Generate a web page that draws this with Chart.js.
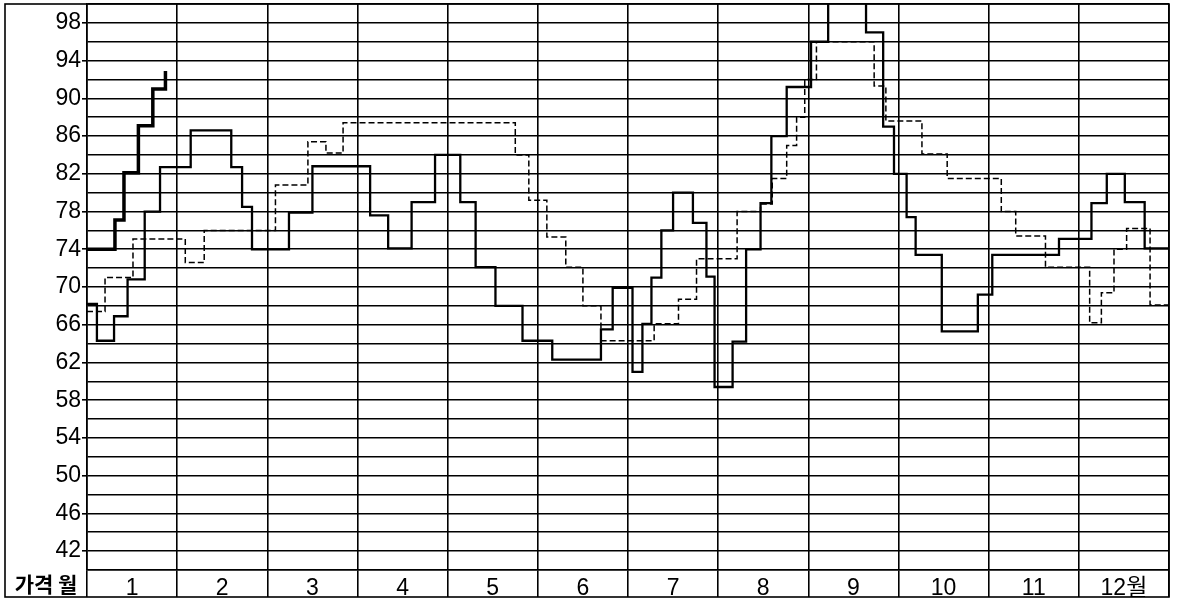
<!DOCTYPE html>
<html>
<head>
<meta charset="utf-8">
<script src="https://cdn.jsdelivr.net/npm/chart.js@4"></script>
<style>
  html, body { margin: 0; padding: 0; background: #fff; }
</style>
</head>
<body>
<canvas id="chart" width="1177" height="601"></canvas>
<script>
// month labels under each column, and the label of the corner cell
const monthLabels = ['1', '2', '3', '4', '5', '6', '7', '8', '9', '10', '11', '12월'];
const cornerLabel = '가격 월';

// thin solid line: month position where each step starts, and its price
const mainX = [0, 0.11, 0.30, 0.45, 0.64, 0.81, 1.15, 1.60, 1.72, 1.83, 2.24, 2.50,
  3.14, 3.34, 3.60, 3.86, 4.14, 4.31, 4.53, 4.83, 5.16, 5.70, 5.83, 6.05, 6.16, 6.26,
  6.37, 6.50, 6.72, 6.87, 6.96, 7.16, 7.31, 7.47, 7.59, 7.76, 8.03, 8.22, 8.64, 8.83,
  8.95, 9.09, 9.19, 9.48, 9.88, 10.04, 10.78, 11.14, 11.31, 11.51, 11.73, 12];
const mainY = [68.2, 64.3, 66.9, 70.8, 78, 82.7, 86.6, 82.7, 78.5, 74, 77.9, 82.8,
  77.6, 74.1, 79, 84, 79, 72.1, 68, 64.3, 62.3, 65.5, 69.9, 61, 66.1, 71,
  76, 80, 76.8, 71.1, 59.4, 64.2, 74, 78.9, 86, 91.2, 96, 104, 97, 87,
  82, 77.4, 73.4, 65.3, 69.2, 73.4, 75.1, 78.9, 82, 79, 74.1, 74.1];

// thick line (following January)
const nextJanX = [0, 0.31, 0.41, 0.57, 0.73, 0.87];
const nextJanY = [74, 77.1, 82.1, 87.1, 91, 92.9];

// dashed line
const avgX = [0, 0.20, 0.51, 1.09, 1.30, 2.09, 2.45, 2.65, 2.84, 4.75, 4.90, 5.10,
  5.31, 5.50, 5.70, 6.29, 6.56, 6.76, 7.21, 7.47, 7.60, 7.76, 7.87, 7.96, 8.09, 8.73,
  8.86, 9.26, 9.54, 10.14, 10.30, 10.63, 11.12, 11.25, 11.39, 11.53, 11.79, 12];
const avgY = [67.4, 71, 75.1, 72.6, 76, 80.8, 85.4, 84.2, 87.4, 84, 79.2, 75.3,
  72.1, 68, 64.3, 66.1, 68.7, 73, 78, 78.8, 81.5, 85, 88, 92, 96, 91.3,
  87.6, 84.1, 81.5, 78, 75.4, 72.1, 66.2, 69.4, 74, 76.2, 68.1, 68.1];

function toPoints(xs, ys) {
  return xs.map((x, i) => ({ x: x, y: ys[i] }));
}

function isLabeledPrice(v) {
  return (v - 42) % 4 === 0;
}

const labelFont = { family: '"Liberation Sans", "Noto Sans CJK KR", sans-serif', size: 23 };

// outer frame and the corner cell text
const framePlugin = {
  id: 'frame',
  afterDraw(chart) {
    const ctx = chart.ctx;
    const area = chart.chartArea;
    const bottom = chart.scales.x.bottom;
    ctx.save();
    ctx.strokeStyle = '#000';
    ctx.lineWidth = 1.6;
    ctx.strokeRect(5, area.top, area.right - 5, bottom - area.top);
    ctx.fillStyle = '#000';
    ctx.font = 'bold 21px "Noto Sans CJK KR", sans-serif';
    ctx.textAlign = 'center';
    ctx.textBaseline = 'middle';
    ctx.fillText(cornerLabel, (5 + area.left) / 2, (area.bottom + bottom) / 2 + 1);
    ctx.restore();
  }
};

new Chart(document.getElementById('chart'), {
  type: 'line',
  data: {
    datasets: [
      {
        data: toPoints(avgX, avgY),
        borderColor: '#000',
        borderWidth: 1.5,
        borderDash: [6, 3],
        stepped: true,
        pointRadius: 0
      },
      {
        data: toPoints(mainX, mainY),
        borderColor: '#000',
        borderWidth: 2.3,
        stepped: true,
        pointRadius: 0
      },
      {
        data: toPoints(nextJanX, nextJanY),
        borderColor: '#000',
        borderWidth: 3.5,
        stepped: true,
        pointRadius: 0
      }
    ]
  },
  options: {
    responsive: false,
    animation: false,
    layout: { padding: { left: 5, top: 4, right: 8, bottom: 4 } },
    plugins: {
      legend: { display: false },
      tooltip: { enabled: false }
    },
    scales: {
      x: {
        type: 'linear',
        min: 0,
        max: 12,
        afterBuildTicks: scale => {
          const ticks = [];
          for (let i = 0; i <= monthLabels.length * 2; i++) {
            ticks.push({ value: i / 2 });
          }
          scale.ticks = ticks;
        },
        afterFit: scale => {
          scale.height = 27;
          scale.paddingLeft = 0;
          scale.paddingRight = 0;
        },
        grid: {
          color: c => (c.tick && c.tick.value % 1 === 0) ? '#000' : 'rgba(0,0,0,0)',
          lineWidth: 1.6,
          tickLength: 27
        },
        border: { color: '#000', width: 1.6 },
        ticks: {
          autoSkip: false,
          maxRotation: 0,
          padding: -22,
          color: '#000',
          font: labelFont,
          callback: v => (v % 1 !== 0) ? monthLabels[Math.floor(v)] : ''
        }
      },
      y: {
        min: 40,
        max: 100,
        afterFit: scale => {
          scale.width = 82;
          scale.paddingTop = 0;
          scale.paddingBottom = 0;
        },
        grid: {
          color: '#000',
          lineWidth: 1.6,
          tickLength: 5,
          tickColor: c => (c.tick && isLabeledPrice(c.tick.value)) ? '#000' : 'rgba(0,0,0,0)'
        },
        border: { color: '#000', width: 1.6 },
        ticks: {
          stepSize: 2,
          autoSkip: false,
          padding: 1,
          color: '#000',
          font: labelFont,
          callback: v => isLabeledPrice(v) ? String(v) : ''
        }
      }
    }
  },
  plugins: [framePlugin]
});
</script>
</body>
</html>
